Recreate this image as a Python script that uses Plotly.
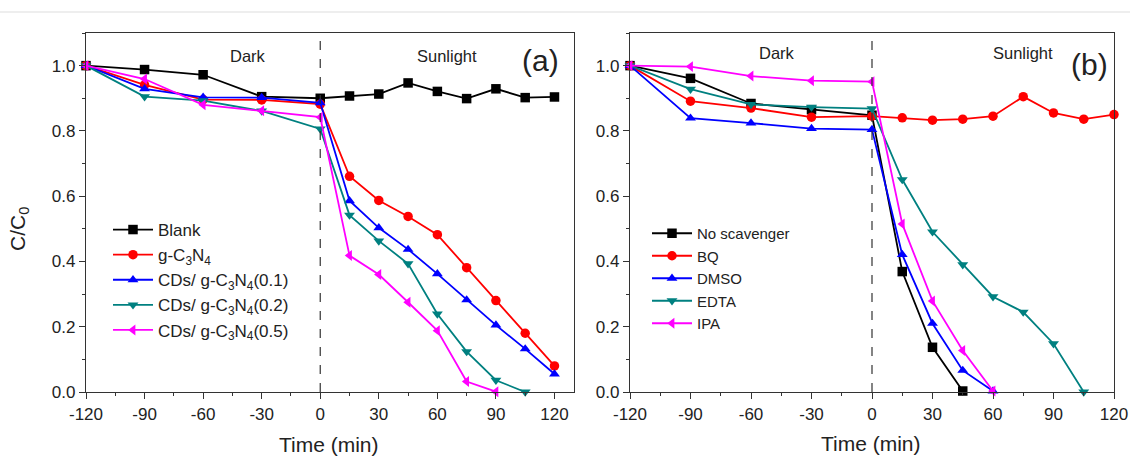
import plotly.graph_objects as go

# ---------------- data ----------------
time_a = [-120, -90, -60, -30, 0, 15, 30, 45, 60, 75, 90, 105, 120]
blank = [1.0, 0.988, 0.972, 0.905, 0.900, 0.907, 0.913, 0.947, 0.921, 0.899, 0.929, 0.902, 0.904]
gcn = [1.0, 0.941, 0.896, 0.895, 0.882, 0.661, 0.587, 0.538, 0.482, 0.381, 0.280, 0.180, 0.080]
cds01 = [1.0, 0.929, 0.903, 0.902, 0.886, 0.586, 0.503, 0.437, 0.362, 0.282, 0.205, 0.132, 0.055]
cds02 = [1.0, 0.905, 0.893, 0.861, 0.806, 0.542, 0.463, 0.393, 0.239, 0.124, 0.036, 0.0]
cds05 = [1.0, 0.959, 0.880, 0.862, 0.842, 0.418, 0.360, 0.275, 0.188, 0.032, 0.001]

time_b = [-120, -90, -60, -30, 0, 15, 30, 45, 60, 75, 90, 105, 120]
no_scav = [1.0, 0.961, 0.884, 0.865, 0.848, 0.369, 0.137, 0.003]
bq = [1.0, 0.891, 0.870, 0.842, 0.845, 0.840, 0.833, 0.836, 0.845, 0.905, 0.855, 0.836, 0.850]
dmso = [1.0, 0.839, 0.824, 0.807, 0.804, 0.421, 0.210, 0.066, 0.003]
edta = [1.0, 0.928, 0.881, 0.873, 0.868, 0.651, 0.491, 0.390, 0.292, 0.245, 0.148, 0.0]
ipa = [1.0, 0.997, 0.968, 0.954, 0.951, 0.515, 0.279, 0.127, 0.003]

x_ticks = [-120, -90, -60, -30, 0, 30, 60, 90, 120]
x_tick_text = ["-120", "-90", "-60", "-30", "0", "30", "60", "90", "120"]
y_ticks = [0.0, 0.2, 0.4, 0.6, 0.8, 1.0]

names_a = ["Blank", "g-C<sub>3</sub>N<sub>4</sub>", "CDs/ g-C<sub>3</sub>N<sub>4</sub>(0.1)",
           "CDs/ g-C<sub>3</sub>N<sub>4</sub>(0.2)", "CDs/ g-C<sub>3</sub>N<sub>4</sub>(0.5)"]
names_b = ["No scavenger", "BQ", "DMSO", "EDTA", "IPA"]

colors = ["#000000", "#FF0000", "#0000FF", "#008080", "#FF00FF"]
symbols = ["square", "circle", "triangle-up", "triangle-down", "triangle-left"]

FONT = "Liberation Sans, Arial, sans-serif"
W, H = 1130, 456

fig = go.Figure()

series_a = [blank, gcn, cds01, cds02, cds05]
for name, ys, c, s in zip(names_a, series_a, colors, symbols):
    fig.add_trace(go.Scatter(
        x=time_a[:len(ys)], y=ys, name=name, mode="lines+markers",
        line=dict(color=c, width=1.8), marker=dict(symbol=s, size=9.5, color=c),
        xaxis="x", yaxis="y", legend="legend", cliponaxis=False))

series_b = [no_scav, bq, dmso, edta, ipa]
for name, ys, c, s in zip(names_b, series_b, colors, symbols):
    fig.add_trace(go.Scatter(
        x=time_b[:len(ys)], y=ys, name=name, mode="lines+markers",
        line=dict(color=c, width=1.8), marker=dict(symbol=s, size=9.5, color=c),
        xaxis="x2", yaxis="y2", legend="legend2", cliponaxis=False))

# pixel helpers (window pixels -> paper coords)
def px(xp):
    return xp / W

def py(yp):
    return 1 - yp / H

top_px, bot_px = 33, 392
ydom = [py(bot_px), py(top_px)]

axis_common = dict(showline=True, linecolor="#333333", linewidth=1.3, mirror=True,
                   ticks="outside", ticklen=6, tickwidth=1.2, tickcolor="#333333",
                   showgrid=False, zeroline=False, automargin=False,
                   tickfont=dict(family=FONT, size=17, color="#222222"))

fig.update_layout(
    width=W, height=H, margin=dict(l=0, r=0, t=0, b=0, pad=0, autoexpand=False),
    paper_bgcolor="white", plot_bgcolor="white",
    font=dict(family=FONT, color="#222222"),
    xaxis=dict(domain=[px(86), px(574)], range=[-120, 130], tickvals=x_ticks, ticktext=x_tick_text,
               minor=dict(dtick=15, tick0=-120, ticks="outside", ticklen=3, tickcolor="#333333"),
               anchor="y", **axis_common),
    yaxis=dict(domain=ydom, range=[0, 1.1], tickvals=y_ticks, tickformat=".1f",
               minor=dict(dtick=0.1, tick0=0, ticks="outside", ticklen=3, tickcolor="#333333"),
               anchor="x", **axis_common),
    xaxis2=dict(domain=[px(630), px(1114)], range=[-120, 120], tickvals=x_ticks, ticktext=x_tick_text,
                minor=dict(dtick=15, tick0=-120, ticks="outside", ticklen=3, tickcolor="#333333"),
                anchor="y2", **axis_common),
    yaxis2=dict(domain=ydom, range=[0, 1.1], tickvals=y_ticks, tickformat=".1f",
                minor=dict(dtick=0.1, tick0=0, ticks="outside", ticklen=3, tickcolor="#333333"),
                anchor="x2", **axis_common),
    legend=dict(x=px(108), y=py(212), xanchor="left", yanchor="top",
                bgcolor="rgba(0,0,0,0)", font=dict(family=FONT, size=17, color="#222222"),
                tracegroupgap=0, itemwidth=40),
    legend2=dict(x=px(647), y=py(217), xanchor="left", yanchor="top",
                 bgcolor="rgba(0,0,0,0)", font=dict(family=FONT, size=15, color="#222222"),
                 tracegroupgap=0, itemwidth=40),
    showlegend=True,
)

# top gray separator line
fig.add_shape(type="line", xref="paper", yref="paper", x0=0, x1=1, y0=py(12), y1=py(12),
              line=dict(color="#dddddd", width=1))

# dashed line at t = 0
for xr, yr in [("x", "y domain"), ("x2", "y2 domain")]:
    fig.add_shape(type="line", xref=xr, yref=yr, x0=0, x1=0, y0=0, y1=1,
                  line=dict(color="#333333", width=1.2, dash="dash"))

# annotations
C = dict(xanchor="center", yanchor="middle", showarrow=False)
ann = []
ann.append(dict(x=-37, y=1.03, xref="x", yref="y", text="Dark", font=dict(family=FONT, size=16.5), **C))
ann.append(dict(x=65, y=1.03, xref="x", yref="y", text="Sunlight", font=dict(family=FONT, size=16.5), **C))
ann.append(dict(x=113, y=1.015, xref="x", yref="y", text="(a)", font=dict(family=FONT, size=30), **C))
ann.append(dict(x=-47, y=1.04, xref="x2", yref="y2", text="Dark", font=dict(family=FONT, size=16.5), **C))
ann.append(dict(x=75, y=1.04, xref="x2", yref="y2", text="Sunlight", font=dict(family=FONT, size=16.5), **C))
ann.append(dict(x=108, y=1.005, xref="x2", yref="y2", text="(b)", font=dict(family=FONT, size=30), **C))
ann.append(dict(x=px(329), y=py(444), xref="paper", yref="paper", text="Time (min)",
                font=dict(family=FONT, size=21), **C))
ann.append(dict(x=px(871), y=py(443), xref="paper", yref="paper", text="Time (min)",
                font=dict(family=FONT, size=21), **C))
ann.append(dict(x=px(19), y=py(229), xref="paper", yref="paper", text="C/C<sub>0</sub>",
                textangle=-90, font=dict(family=FONT, size=21), **C))
fig.update_layout(annotations=ann)

# remove the default page margin so the figure fills the 1130x456 window exactly
fig.write_html("out.html", config={"displayModeBar": False},
               post_script="document.body.style.margin='0';document.body.style.overflow='hidden';")
